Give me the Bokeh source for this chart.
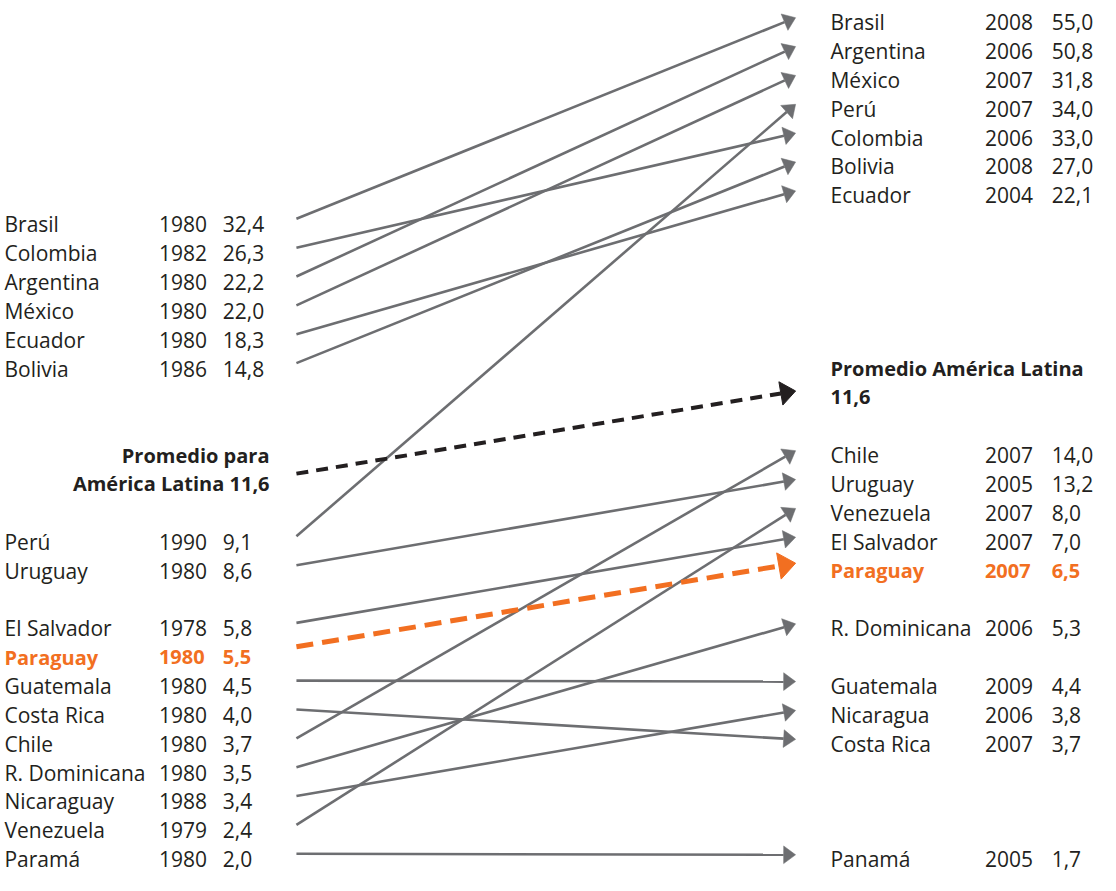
import math
from bokeh.plotting import figure
from bokeh.models import Range1d, ColumnDataSource
from bokeh.core.properties import value
from bokeh.embed import file_html
from bokeh.resources import INLINE

# ---------------- data ----------------
countries = ["Brasil", "Colombia", "Argentina", "México", "Ecuador", "Bolivia",
             "Perú", "Uruguay", "El Salvador", "Paraguay", "Guatemala",
             "Costa Rica", "Chile", "R. Dominicana", "Nicaragua", "Venezuela",
             "Panamá"]
start_labels = ["Brasil", "Colombia", "Argentina", "México", "Ecuador", "Bolivia",
                "Perú", "Uruguay", "El Salvador", "Paraguay", "Guatemala",
                "Costa Rica", "Chile", "R. Dominicana", "Nicaraguay", "Venezuela",
                "Paramá"]
start_years = [1980, 1982, 1980, 1980, 1980, 1986, 1990, 1980, 1978, 1980, 1980,
               1980, 1980, 1980, 1988, 1979, 1980]
start_values = [32.4, 26.3, 22.2, 22.0, 18.3, 14.8, 9.1, 8.6, 5.8, 5.5, 4.5,
                4.0, 3.7, 3.5, 3.4, 2.4, 2.0]
start_rows = [0, 1, 2, 3, 4, 5, 11, 12, 14, 15, 16, 17, 18, 19, 20, 21, 22]

end_years = [2008, 2006, 2006, 2007, 2004, 2008, 2007, 2005, 2007, 2007, 2009,
             2007, 2007, 2006, 2006, 2007, 2005]
end_values = [55.0, 33.0, 50.8, 31.8, 22.1, 27.0, 34.0, 13.2, 7.0, 6.5, 4.4,
              3.7, 14.0, 5.3, 3.8, 8.0, 1.7]
end_rows = [0, 4, 1, 2, 6, 5, 3, 16, 18, 19, 23, 25, 15, 21, 24, 17, 29]

highlight = "Paraguay"

avg_start_label = ["Promedio para", "América Latina 11,6"]
avg_start_rows = [8, 9]
avg_end_label = ["Promedio América Latina", "11,6"]
avg_end_rows = [12, 13]

# ---------------- layout / style ----------------
ROW0, PITCH, LEFT_SHIFT = 24.5, 29.36, 7
X_NAME_L, X_YEAR_L, X_VAL_L = 14, 169, 233
X_NAME_R, X_YEAR_R, X_VAL_R = 843, 998, 1065
X_ARROW0, X_ARROW1 = 307, 808
CAP_HALF = 7.5
TEXT = "#231F20"
GREY = "#6D6E71"
ORANGE = "#F26F21"
FONT = value("Open Sans")


def row_y(slot, left):
    return ROW0 + (slot + (LEFT_SHIFT if left else 0)) * PITCH


def fmt(v):
    return f"{v:.1f}".replace(".", ",")


def arrow(x0, y0, x1, y1, L, W):
    dx, dy = x1 - x0, y1 - y0
    n = math.hypot(dx, dy)
    ux, uy = dx / n, dy / n
    bx, by = x1 - L * ux, y1 - L * uy
    px, py = -uy, ux
    hx = [x1, bx + W / 2 * px, bx - W / 2 * px]
    hy = [y1, by + W / 2 * py, by - W / 2 * py]
    return bx, by, hx, hy


p = figure(width=1100, height=875, x_range=Range1d(10, 1114), y_range=Range1d(900, 10),
           output_backend="svg", toolbar_location=None, min_border=0)
p.axis.visible = False
p.grid.visible = False
p.outline_line_color = None
p.background_fill_color = "white"
p.border_fill_color = "white"

# grey arrows
sx0, sy0, sx1, sy1, hxs, hys = [], [], [], [], [], []
for i, c in enumerate(countries):
    if c == highlight:
        continue
    y0 = row_y(start_rows[i], True) + 2
    y1 = row_y(end_rows[i], False) + 3
    bx, by, hx, hy = arrow(X_ARROW0, y0, X_ARROW1, y1, 12, 18)
    sx0.append(X_ARROW0); sy0.append(y0); sx1.append(bx); sy1.append(by)
    hxs.append(hx); hys.append(hy)
p.segment(x0=sx0, y0=sy0, x1=sx1, y1=sy1, line_color=GREY, line_width=2.6)
p.patches(xs=hxs, ys=hys, fill_color=GREY, line_color=GREY, line_width=0.5)

# average arrow (black dashed)
y0 = row_y(avg_start_rows[1], True) - 3
y1 = row_y(avg_end_rows[1], False) + 1
bx, by, hx, hy = arrow(X_ARROW0, y0, X_ARROW1, y1, 15, 24)
p.segment(x0=[X_ARROW0], y0=[y0], x1=[bx], y1=[by], line_color=TEXT, line_width=4,
          line_dash="12 8")
p.patches(xs=[hx], ys=[hy], fill_color=TEXT, line_color=TEXT)

# highlighted arrow (orange dashed)
hi = countries.index(highlight)
y0 = row_y(start_rows[hi], True) - 3
y1 = row_y(end_rows[hi], False)
bx, by, hx, hy = arrow(X_ARROW0, y0, X_ARROW1, y1, 17, 27)
p.segment(x0=[X_ARROW0], y0=[y0], x1=[bx], y1=[by], line_color=ORANGE, line_width=5,
          line_dash="17 9")
p.patches(xs=[hx], ys=[hy], fill_color=ORANGE, line_color=ORANGE)


# texts
def add_text(xs, ys, texts, color, bold=False, align="left", size="21px"):
    src = ColumnDataSource(dict(x=xs, y=ys, t=texts))
    p.text(x="x", y="y", text="t", source=src, text_font=FONT,
           text_font_size=value(size), text_color=color,
           text_font_style="bold" if bold else "normal",
           text_align=align, text_baseline="alphabetic")


norm = [i for i, c in enumerate(countries) if c != highlight]
for left in (True, False):
    rows = start_rows if left else end_rows
    ys = [row_y(rows[i], left) + CAP_HALF for i in norm]
    names = [(start_labels if left else countries)[i] for i in norm]
    years = [str((start_years if left else end_years)[i]) for i in norm]
    vals = [fmt((start_values if left else end_values)[i]) for i in norm]
    xn, xy, xv = (X_NAME_L, X_YEAR_L, X_VAL_L) if left else (X_NAME_R, X_YEAR_R, X_VAL_R)
    add_text([xn] * len(ys), ys, names, TEXT)
    add_text([xy] * len(ys), ys, years, TEXT)
    add_text([xv] * len(ys), ys, vals, TEXT)
    yh = row_y(rows[hi], left) + CAP_HALF
    add_text([xn], [yh], [(start_labels if left else countries)[hi]], ORANGE, bold=True, size="20px")
    add_text([xy], [yh], [str((start_years if left else end_years)[hi])], ORANGE, bold=True, size="20px")
    add_text([xv], [yh], [fmt((start_values if left else end_values)[hi])], ORANGE, bold=True, size="20px")

add_text([280] * 2, [row_y(r, True) + CAP_HALF for r in avg_start_rows], avg_start_label,
         TEXT, bold=True, align="right", size="20px")
add_text([X_NAME_R] * 2, [row_y(r, False) + CAP_HALF for r in avg_end_rows], avg_end_label,
         TEXT, bold=True, size="20px")

open("out.html", "w").write(file_html(p, INLINE))
